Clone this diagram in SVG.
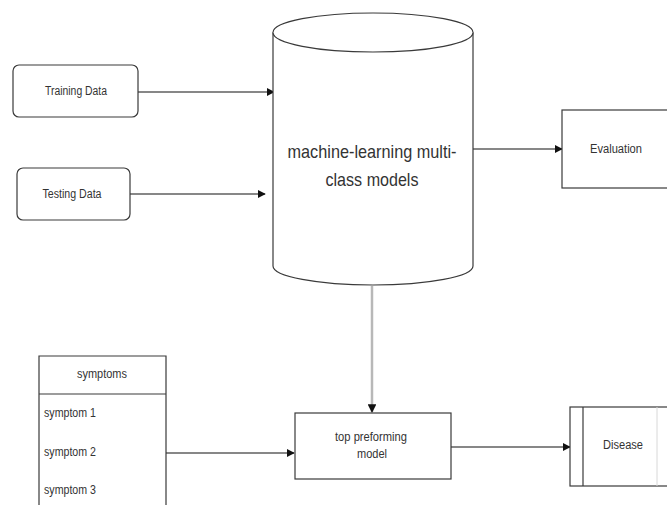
<svg xmlns="http://www.w3.org/2000/svg" width="667" height="505" viewBox="0 0 667 505">
  <style>
    .box { fill: #ffffff; stroke: #3a3a3a; stroke-width: 1.2; }
    .lbl { font-family: "Liberation Sans", Arial, sans-serif; font-size: 12px; fill: #333333; }
    .big { font-family: "Liberation Sans", Arial, sans-serif; font-size: 19px; fill: #333333; }
    .edge { fill: none; stroke: #111111; stroke-width: 1.2; }
    .edge-grey { fill: none; stroke: #b8b8b8; stroke-width: 2.5; }
  </style>
  <defs>
    <marker id="arrow" viewBox="0 0 10 10" refX="9" refY="5" markerWidth="8" markerHeight="8" markerUnits="userSpaceOnUse" orient="auto">
      <path d="M0,0 L10,5 L0,10 Z" fill="#111111"/>
    </marker>
    <marker id="arrow-grey" viewBox="0 0 10 10" refX="9" refY="5" markerWidth="3.5" markerHeight="3.5" orient="auto">
      <path d="M0,0 L10,5 L0,10 Z" fill="#111111"/>
    </marker>
  </defs>

  <rect width="667" height="505" fill="#ffffff"/>

  <!-- connectors -->
  <g id="connectors">
    <line class="edge" x1="138" y1="92" x2="274" y2="92" marker-end="url(#arrow)"/>
    <line class="edge" x1="130" y1="194" x2="265" y2="194" marker-end="url(#arrow)"/>
    <line class="edge" x1="473" y1="149" x2="562" y2="149" marker-end="url(#arrow)"/>
    <line class="edge-grey" x1="372" y1="286" x2="372" y2="412" marker-end="url(#arrow-grey)"/>
    <line class="edge" x1="166" y1="453" x2="294" y2="453" marker-end="url(#arrow)"/>
    <line class="edge" x1="451" y1="447" x2="570" y2="447" marker-end="url(#arrow)"/>
  </g>

  <!-- Training Data -->
  <g id="training-data">
    <rect class="box" x="13" y="65" width="125" height="52" rx="6"/>
    <text class="lbl" x="76" y="95" text-anchor="middle" textLength="62" lengthAdjust="spacingAndGlyphs">Training Data</text>
  </g>

  <!-- Testing Data -->
  <g id="testing-data">
    <rect class="box" x="17" y="168" width="113" height="52" rx="6"/>
    <text class="lbl" x="72" y="198" text-anchor="middle" textLength="59" lengthAdjust="spacingAndGlyphs">Testing Data</text>
  </g>

  <!-- machine-learning multi-class models (cylinder) -->
  <g id="ml-models">
    <path class="box" d="M273,32.5 A100,19.5 0 0 1 473,32.5 L473,266 A100,19 0 0 1 273,266 Z"/>
    <path class="box" fill="none" d="M273,32.5 A100,19.5 0 0 0 473,32.5"/>
    <text class="big" x="372" y="158" text-anchor="middle" textLength="169" lengthAdjust="spacingAndGlyphs">machine-learning multi-</text>
    <text class="big" x="372" y="186" text-anchor="middle" textLength="93" lengthAdjust="spacingAndGlyphs">class models</text>
  </g>

  <!-- Evaluation -->
  <g id="evaluation">
    <rect class="box" x="562" y="110" width="106" height="78"/>
    <text class="lbl" x="616" y="153" text-anchor="middle" textLength="52" lengthAdjust="spacingAndGlyphs">Evaluation</text>
  </g>

  <!-- symptoms list -->
  <g id="symptoms">
    <path class="box" d="M39,510 L39,356 L166,356 L166,510"/>
    <line class="box" x1="39" y1="394" x2="166" y2="394"/>
    <text class="lbl" x="102" y="378" text-anchor="middle" textLength="50" lengthAdjust="spacingAndGlyphs">symptoms</text>
    <text class="lbl" x="44" y="417" textLength="52" lengthAdjust="spacingAndGlyphs">symptom 1</text>
    <text class="lbl" x="44" y="456" textLength="52" lengthAdjust="spacingAndGlyphs">symptom 2</text>
    <text class="lbl" x="44" y="494" textLength="52" lengthAdjust="spacingAndGlyphs">symptom 3</text>
  </g>

  <!-- top preforming model -->
  <g id="top-model">
    <rect class="box" x="295" y="413" width="156" height="66"/>
    <text class="lbl" x="371" y="441" text-anchor="middle" textLength="72" lengthAdjust="spacingAndGlyphs">top preforming</text>
    <text class="lbl" x="372" y="458" text-anchor="middle" textLength="30" lengthAdjust="spacingAndGlyphs">model</text>
  </g>

  <!-- Disease (process) -->
  <g id="disease">
    <rect class="box" x="570" y="407" width="98" height="79"/>
    <line class="box" x1="583" y1="407" x2="583" y2="486"/>
    <line x1="657" y1="407" x2="657" y2="486" stroke="#d8d8d8" stroke-width="1"/>
    <text class="lbl" x="623" y="449" text-anchor="middle" textLength="40" lengthAdjust="spacingAndGlyphs">Disease</text>
  </g>
</svg>
